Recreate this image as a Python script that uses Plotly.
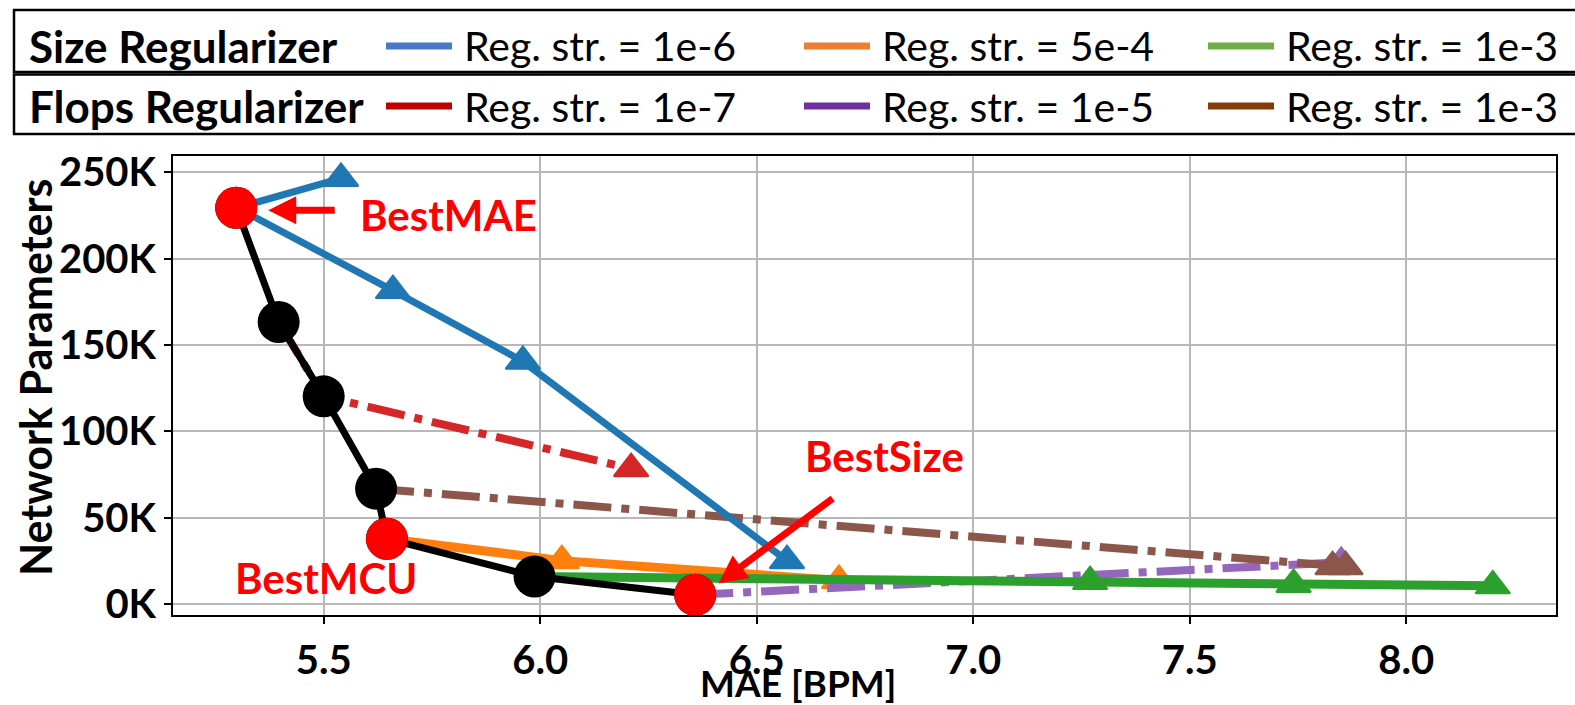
import plotly.graph_objects as go

# ---------------- data ----------------
size_1e6_mae = [5.54, 5.30, 5.66, 5.96, 6.57]
size_1e6_par = [246500, 229500, 181500, 140500, 25000]
size_5e4_mae = [5.646, 6.05, 6.69]
size_5e4_par = [37700, 25000, 13500]
size_1e3_mae = [5.987, 7.27, 7.74, 8.20]
size_1e3_par = [15800, 12900, 11200, 10400]
flops_1e7_mae = [5.396, 5.50, 6.21]
flops_1e7_par = [163300, 120200, 78300]
flops_1e5_mae = [6.358, 7.85]
flops_1e5_par = [5200, 24000]
flops_1e3_mae = [5.621, 7.83, 7.86]
flops_1e3_par = [66700, 21500, 21500]
pareto_mae = [5.298, 5.396, 5.50, 5.621, 5.646, 5.987, 6.358]
pareto_par = [229500, 163300, 120200, 66700, 37700, 15800, 5200]
best_names = ["BestMAE", "BestMCU", "BestSize"]
best_mae = [5.298, 5.646, 6.358]
best_par = [229500, 37700, 5200]

y_ticks = [0, 50000, 100000, 150000, 200000, 250000]
y_ticklabels = ["0K", "50K", "100K", "150K", "200K", "250K"]

row_labels = ["Size Regularizer", "Flops Regularizer"]
legend_labels = [["Reg. str. = 1e-6", "Reg. str. = 5e-4", "Reg. str. = 1e-3"],
                 ["Reg. str. = 1e-7", "Reg. str. = 1e-5", "Reg. str. = 1e-3"]]

# ---------------- styles ----------------
C_BLUE, C_ORANGE, C_GREEN = "#1f77b4", "#ff7f0e", "#2ca02c"
C_RED, C_PURPLE, C_BROWN = "#d62728", "#9467bd", "#8c564b"
LEG_COLORS = [["#4878c8", "#ed7d31", "#70ad47"], ["#c00000", "#7030a0", "#843c0c"]]
FONT = "Lato"
DASHDOT = "38px,10px,8px,10px"

W_FIG, H_FIG = 1575, 705
L, R, T, B = 173, 1556, 156, 615


def px(x):
    return (x - L) / (R - L)


def py(y):
    return (B - y) / (B - T)


fig = go.Figure()


def add_series(xs, ys, color, width, dash="solid"):
    fig.add_trace(go.Scatter(
        x=xs, y=ys, mode="lines+markers",
        line=dict(color=color, width=width, dash=dash),
        marker=dict(symbol="triangle-up", size=30, color=color,
                    line=dict(color=color, width=2)),
        showlegend=False, hoverinfo="x+y"))


add_series(size_5e4_mae, size_5e4_par, C_ORANGE, 9)
add_series(flops_1e7_mae, flops_1e7_par, C_RED, 8, DASHDOT)
add_series(flops_1e5_mae, flops_1e5_par, C_PURPLE, 8, DASHDOT)
add_series(flops_1e3_mae, flops_1e3_par, C_BROWN, 8, DASHDOT)
add_series(size_1e6_mae, size_1e6_par, C_BLUE, 7)
add_series(size_1e3_mae, size_1e3_par, C_GREEN, 9)

fig.add_trace(go.Scatter(
    x=pareto_mae, y=pareto_par, mode="lines+markers",
    line=dict(color="black", width=7),
    marker=dict(symbol="circle", size=42, color="black"),
    showlegend=False))
fig.add_trace(go.Scatter(
    x=best_mae, y=best_par, mode="markers", text=best_names,
    marker=dict(symbol="circle", size=42, color="#ff0000"),
    showlegend=False))

# ---------------- annotations (labels + arrows) ----------------
ann_font = dict(family=FONT, size=42, color="#ff0000", weight="bold")
annotations = [
    dict(x=px(358), y=py(215), xref="paper", yref="paper", text="BestMAE",
         showarrow=False, xanchor="left", yanchor="middle", font=ann_font),
    dict(x=px(803), y=py(456), xref="paper", yref="paper", text="BestSize",
         showarrow=False, xanchor="left", yanchor="middle", font=ann_font),
    dict(x=px(233), y=py(578), xref="paper", yref="paper", text="BestMCU",
         showarrow=False, xanchor="left", yanchor="middle", font=ann_font),
    # arrows
    dict(x=5.372, y=228000, ax=5.529, ay=228000, xref="x", yref="y",
         axref="x", ayref="y", text="", showarrow=True, arrowhead=2,
         arrowsize=0.8, arrowwidth=7, arrowcolor="#ff0000"),
    dict(x=6.412, y=11800, ax=6.679, ay=61700, xref="x", yref="y",
         axref="x", ayref="y", text="", showarrow=True, arrowhead=2,
         arrowsize=0.8, arrowwidth=7, arrowcolor="#ff0000"),
    # axis titles
    dict(x=px(798), y=py(682), xref="paper", yref="paper", text="MAE [BPM]",
         showarrow=False, xanchor="center", yanchor="middle",
         font=dict(family=FONT, size=37, color="black", weight="bold")),
    dict(x=px(35), y=py(378), xref="paper", yref="paper", text="Network Parameters",
         showarrow=False, xanchor="center", yanchor="middle", textangle=-90,
         font=dict(family=FONT, size=43, color="black", weight="bold")),
]

# ---------------- legend (table-style box above plot) ----------------
shapes = []
row_y = [46, 106]
boxes = [(10, 72), (74.5, 134)]
for (y0, y1) in boxes:
    shapes.append(dict(type="rect", xref="paper", yref="paper",
                       x0=px(14), x1=px(1600), y0=py(y0), y1=py(y1),
                       line=dict(color="black", width=2.5)))
sample_x = [(386, 452), (804, 870), (1208, 1274)]
text_x = [462, 880, 1284]
for r in range(2):
    annotations.append(dict(x=px(27), y=py(row_y[r]), xref="paper", yref="paper",
                            text=row_labels[r], showarrow=False,
                            xanchor="left", yanchor="middle",
                            font=dict(family=FONT, size=44, color="black", weight="bold")))
    for c in range(3):
        shapes.append(dict(type="line", xref="paper", yref="paper",
                           x0=px(sample_x[c][0]), x1=px(sample_x[c][1]),
                           y0=py(row_y[r]), y1=py(row_y[r]),
                           line=dict(color=LEG_COLORS[r][c], width=7)))
        annotations.append(dict(x=px(text_x[c]), y=py(row_y[r]), xref="paper", yref="paper",
                                text=legend_labels[r][c], showarrow=False,
                                xanchor="left", yanchor="middle",
                                font=dict(family=FONT, size=41, color="black")))

axis_common = dict(showline=True, linecolor="black", linewidth=2, mirror=True,
                   showgrid=True, gridcolor="#b8b8b8", gridwidth=1.5,
                   ticks="outside", ticklen=7, tickwidth=1.5, tickcolor="black",
                   zeroline=False, automargin=False,
                   tickfont=dict(family=FONT, size=40, color="black", weight="bold"))

fig.update_layout(
    width=W_FIG, height=H_FIG,
    margin=dict(l=L, r=W_FIG - R, t=T, b=H_FIG - B),
    paper_bgcolor="white", plot_bgcolor="white",
    xaxis=dict(range=[5.152, 8.346], dtick=0.5, tick0=5.5, tickformat=".1f",
               ticklabelstandoff=2, **axis_common),
    yaxis=dict(range=[-6500, 259500], tickvals=y_ticks, ticktext=y_ticklabels,
               **axis_common),
    annotations=annotations, shapes=shapes,
    font=dict(family=FONT, color="black"),
    hovermode=False,
)

fig.write_html("out.html", config={"displayModeBar": False},
               post_script="document.body.style.margin='0';"
                           "document.body.style.overflow='hidden';")
